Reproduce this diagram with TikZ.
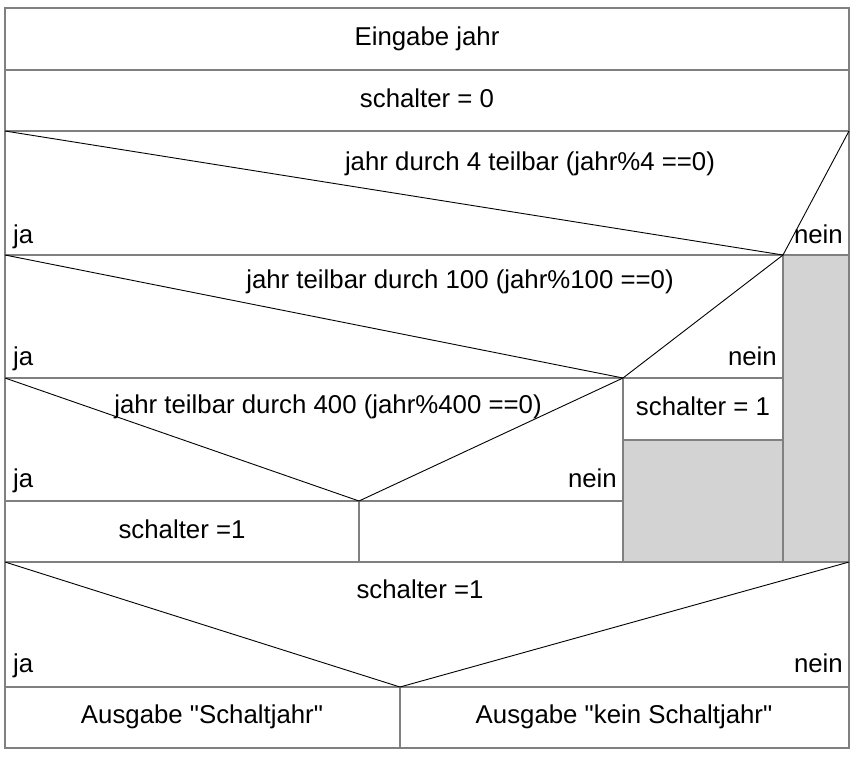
\documentclass[tikz,border=0pt]{standalone}
\usepackage{fontspec}
\setmainfont{Liberation Sans}
\definecolor{leer}{RGB}{211,211,211}
\definecolor{rahmen}{RGB}{128,128,128}

\begin{document}
\begin{tikzpicture}[x=1pt,y=-1pt]
\tikzstyle{frame}=[draw=rahmen, line width=1.6pt]
\tikzstyle{diag}=[draw=black, line width=0.9pt]
\tikzstyle{txt}=[font=\fontsize{25.8}{30}\selectfont, inner sep=0pt, anchor=base]

\useasboundingbox (0,0) rectangle (861,756);

% leere Zweige
\fill[leer] (783,255) rectangle (849,562);
\fill[leer] (623,440) rectangle (783,562);

% Rahmen und Trennlinien
\draw[frame] (5,8) rectangle (849,748);
\draw[frame] (5,70) -- (849,70);
\draw[frame] (5,131) -- (849,131);
\draw[frame] (5,255) -- (849,255);
\draw[frame] (5,378) -- (783,378);
\draw[frame] (623,440) -- (783,440);
\draw[frame] (5,501) -- (623,501);
\draw[frame] (5,562) -- (849,562);
\draw[frame] (5,687) -- (849,687);
\draw[frame] (783,255) -- (783,562);
\draw[frame] (623,378) -- (623,562);
\draw[frame] (359,501) -- (359,562);
\draw[frame] (400,687) -- (400,748);

% Spitzen der Verzweigungen
\coordinate (s4) at (783,255);
\coordinate (s100) at (623,378);
\coordinate (s400) at (359,501);
\coordinate (saus) at (400,687);

\draw[diag] (5,131) -- (s4) -- (849,131);
\draw[diag] (5,255) -- (s100) -- (s4);
\draw[diag] (5,378) -- (s400) -- (s100);
\draw[diag] (5,562) -- (saus) -- (849,562);

% Anweisungen
\draw (427,45) node[txt] (eingabe) {Eingabe jahr};
\draw (427,107) node[txt] (init) {schalter = 0};
\draw (530,170) node[txt] (cond4) {jahr durch 4 teilbar (jahr\%4 ==0)};
\draw (460,288) node[txt] (cond100) {jahr teilbar durch 100 (jahr\%100 ==0)};
\draw (328,413) node[txt] (cond400) {jahr teilbar durch 400 (jahr\%400 ==0)};
\draw (703,415) node[txt] (set100) {schalter = 1};
\draw (182,538) node[txt] (set400) {schalter =1};
\draw (420,598) node[txt] (condaus) {schalter =1};
\draw (202,723) node[txt] (ausja) {Ausgabe \textquotedbl Schaltjahr\textquotedbl};
\draw (624,723) node[txt] (ausnein) {Ausgabe \textquotedbl kein Schaltjahr\textquotedbl};

% ja / nein
\draw (13,243) node[txt, anchor=base west] (ja4) {ja};
\draw (843,243) node[txt, anchor=base east] (nein4) {nein};
\draw (13,365) node[txt, anchor=base west] (ja100) {ja};
\draw (777,365) node[txt, anchor=base east] (nein100) {nein};
\draw (13,487) node[txt, anchor=base west] (ja400) {ja};
\draw (617,487) node[txt, anchor=base east] (nein400) {nein};
\draw (13,672) node[txt, anchor=base west] (jaaus) {ja};
\draw (843,672) node[txt, anchor=base east] (neinaus) {nein};
\end{tikzpicture}
\end{document}
